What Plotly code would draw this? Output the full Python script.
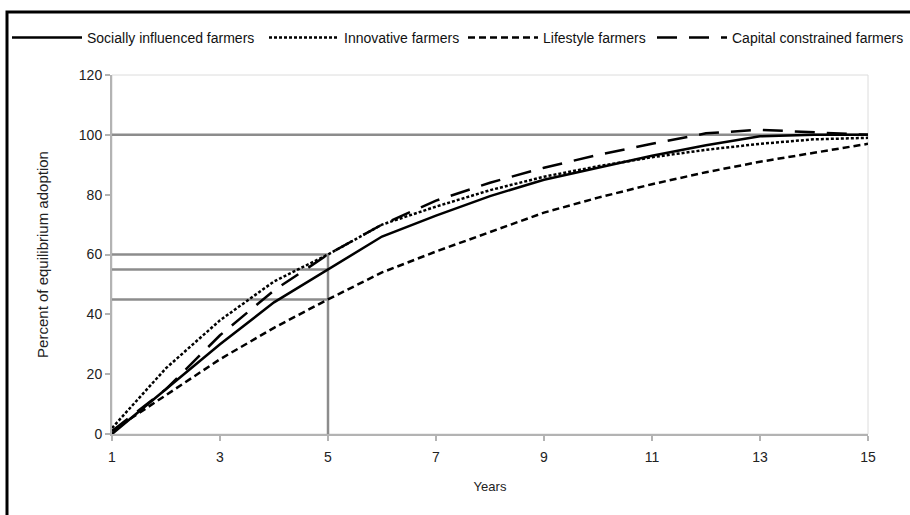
import plotly.graph_objects as go

years = list(range(1, 16))
socially = [0, 15, 30, 44, 55, 66, 73, 79.5, 85, 89, 93, 96.5, 99.5, 100, 100]
innovative = [2, 22, 38, 51, 60, 70, 76, 81.5, 86, 89.5, 92.5, 95, 97, 98.5, 99]
lifestyle = [1, 13, 25, 35.5, 45, 54, 61, 67.5, 74, 79, 83.5, 87.5, 91, 94, 97]
capital = [1, 15, 33, 48, 60, 70, 78, 84, 89, 93.3, 97, 100.5, 101.7, 100.8, 100]

series_names = ["Socially influenced farmers", "Innovative farmers", "Lifestyle farmers",
                "Capital constrained farmers"]
series_values = [socially, innovative, lifestyle, capital]
series_dash = ["solid", "3px,2px", "7px,4px", "20px,12px"]
legend_ids = ["legend", "legend2", "legend3", "legend4"]
legend_left_px = [7, 264, 463, 652]

ref_levels = [100, 60, 55, 45]
ref_level_x_end = [15, 5, 5, 5]
ref_vertical_x = 5
ref_vertical_top = 60

x_ticks = [1, 3, 5, 7, 9, 11, 13, 15]
y_ticks = [0, 20, 40, 60, 80, 100, 120]

fig = go.Figure()

ref_color = "#8c8c8c"
for lvl, xe in zip(ref_levels, ref_level_x_end):
    fig.add_trace(go.Scatter(x=[1, xe], y=[lvl, lvl], mode="lines",
                             line=dict(color=ref_color, width=2.5),
                             showlegend=False, hoverinfo="skip"))
fig.add_trace(go.Scatter(x=[ref_vertical_x, ref_vertical_x], y=[0, ref_vertical_top], mode="lines",
                         line=dict(color=ref_color, width=2.5),
                         showlegend=False, hoverinfo="skip"))

for name, vals, dash, lg in zip(series_names, series_values, series_dash, legend_ids):
    fig.add_trace(go.Scatter(x=years, y=vals, mode="lines", name=name, legend=lg,
                             line=dict(color="black", width=2.5, dash=dash)))

font_family = "Liberation Sans, Arial, sans-serif"

L, R, T, B = 112, 42, 75, 81
W, H = 910, 515
pw = W - L - R
ph = H - T - B

def px_to_paper_x(px):
    return (px - L) / pw

def py_to_paper_y(py):
    return (H - B - py) / ph

legend_layouts = {}
for lg, lx in zip(legend_ids, legend_left_px):
    legend_layouts[lg] = dict(orientation="h", x=px_to_paper_x(lx), xanchor="left",
                              y=py_to_paper_y(38), yanchor="middle",
                              font=dict(size=14, color="#111"), itemwidth=70,
                              bgcolor="rgba(0,0,0,0)")

fig.update_layout(
    width=W, height=H,
    margin=dict(l=L, r=R, t=T, b=B, autoexpand=False),
    paper_bgcolor="white", plot_bgcolor="white",
    font=dict(family=font_family, size=12, color="#222"),
    showlegend=True,
    xaxis=dict(range=[1, 15], tickvals=x_ticks, ticks="outside", ticklen=5, tickwidth=2,
               tickcolor="#b3b3b3", showline=True, linecolor="#b3b3b3", linewidth=2,
               showgrid=False, zeroline=False, ticklabelstandoff=4,
               title=dict(text="Years", font=dict(size=13), standoff=18),
               tickfont=dict(size=14)),
    yaxis=dict(range=[0, 120], tickvals=y_ticks, ticks="outside", ticklen=5, tickwidth=2,
               tickcolor="#b3b3b3", showline=True, linecolor="#b3b3b3", linewidth=2,
               showgrid=False, zeroline=False,
               title=dict(text="Percent of equilibrium adoption", font=dict(size=15), standoff=27),
               tickfont=dict(size=14)),
    shapes=[
        dict(type="rect", xref="paper", yref="paper", x0=0, x1=1, y0=0, y1=1,
             line=dict(color="#dcdcdc", width=1), layer="below"),
        dict(type="rect", xref="paper", yref="paper",
             x0=px_to_paper_x(7), x1=px_to_paper_x(920),
             y0=py_to_paper_y(530), y1=py_to_paper_y(12),
             line=dict(color="black", width=3)),
    ],
    **legend_layouts,
)

fig.write_html("out.html", config={"displayModeBar": False},
               post_script="document.body.style.margin='0';")
